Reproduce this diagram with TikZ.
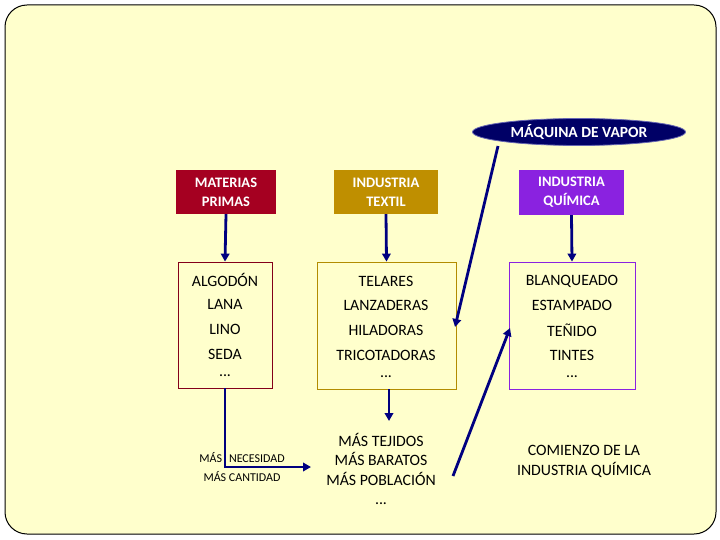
\documentclass[tikz,border=0pt]{standalone}
\usepackage{fontspec}
\setmainfont{Carlito}
\usetikzlibrary{shapes.geometric,arrows.meta}
\definecolor{bg}{HTML}{FFFFCC}
\definecolor{navy}{HTML}{000080}
\definecolor{mred}{HTML}{A50021}
\definecolor{mgold}{HTML}{BF8F00}
\definecolor{mpurp}{HTML}{8A22E0}
\definecolor{vapor}{HTML}{000066}
\tikzset{
  head/.style={draw=none,text=white,align=center,font=\fontsize{14.5}{19}\selectfont\bfseries,inner sep=0pt},
  listbox/.style={draw,line width=0.8pt,fill=bg},
  lt/.style={font=\fontsize{15.8}{18}\selectfont,inner sep=0pt,anchor=center},
  conn/.style={draw=navy,line width=2.8pt,-{Triangle[length=8pt,width=8.5pt]}},
}
\begin{document}
\begin{tikzpicture}[x=1pt,y=-1pt]
\useasboundingbox (0,0) rectangle (720,540);
\draw[fill=bg,line width=1pt,rounded corners=22pt] (5,5) rectangle (716,534);
% vapor ellipse
\node[ellipse,fill=vapor,draw=navy!60!white,line width=0.8pt,minimum width=213pt,minimum height=27pt,inner sep=0pt,text=white,font=\fontsize{15.5}{18}\selectfont\bfseries] (vap) at (579,132) {MÁQUINA DE VAPOR};
% headers
\node[head,fill=mred,minimum width=100pt,minimum height=44pt] (mp) at (226,192) {MATERIAS\\PRIMAS};
\node[head,fill=mgold,minimum width=104pt,minimum height=44pt] (it) at (386,192) {INDUSTRIA\\TEXTIL};
\node[head,fill=mpurp,minimum width=105pt,minimum height=45pt] (iq) at (571.5,192.5) {INDUSTRIA\\QUÍMICA};
% list boxes
\node[listbox,draw=mred!80!black,minimum width=94pt,minimum height=126pt,inner sep=0pt] (lb1) at (225,325) {};
\node[listbox,draw=mgold!80!olive,minimum width=139pt,minimum height=127pt,inner sep=0pt] (lb2) at (386.5,325.5) {};
\node[listbox,draw=mpurp,minimum width=126pt,minimum height=127pt,inner sep=0pt] (lb3) at (572,325.5) {};
% list texts
\node[lt] (a1) at (225,280) {ALGODÓN};
\node[lt] (a2) at (225,304) {LANA};
\node[lt] (a3) at (225,329) {LINO};
\node[lt] (a4) at (225,354) {SEDA};
\node[lt] (a5) at (225,376) {...};
\node[lt] (b1) at (386,281) {TELARES};
\node[lt] (b2) at (386,305) {LANZADERAS};
\node[lt] (b3) at (386,330) {HILADORAS};
\node[lt] (b4) at (386,355) {TRICOTADORAS};
\node[lt] (b5) at (386,377) {...};
\node[lt] (c1) at (572,281) {BLANQUEADO};
\node[lt] (c2) at (572,305) {ESTAMPADO};
\node[lt] (c3) at (572,330) {TEÑIDO};
\node[lt] (c4) at (572,355) {TINTES};
\node[lt] (c5) at (572,377) {...};
% bottom texts
\node[align=center,font=\fontsize{15.8}{19.5}\selectfont,inner sep=0pt] (mt) at (381,469) {MÁS TEJIDOS\\MÁS BARATOS\\MÁS POBLACIÓN\\...};
\node[align=center,font=\fontsize{15.8}{20}\selectfont,inner sep=0pt] (ci) at (584,461) {COMIENZO DE LA\\INDUSTRIA QUÍMICA};
\node[font=\fontsize{12}{14}\selectfont,inner sep=0pt] (nec) at (242,458) {MÁS\hspace{7pt}NECESIDAD};
\node[font=\fontsize{12}{14}\selectfont,inner sep=0pt] (can) at (242,477) {MÁS CANTIDAD};
% connectors
\draw[conn] (mp.south) -- (lb1.north);
\draw[conn] (it.south) -- (lb2.north);
\draw[conn] (iq.south) -- (lb3.north);
\coordinate (tip) at (311,467);
\draw[conn] (lb1.south) |- (tip);
\coordinate (mtop) at (389,421);
\draw[conn] (lb2.south -| mtop) -- (mtop);
\coordinate (vs) at (498,146);
\coordinate (ve) at (455,327);
\draw[conn] (vs) -- (ve);
\coordinate (bs) at (453,476);
\coordinate (be) at (510,328);
\draw[conn] (bs) -- (be);
\end{tikzpicture}
\end{document}
